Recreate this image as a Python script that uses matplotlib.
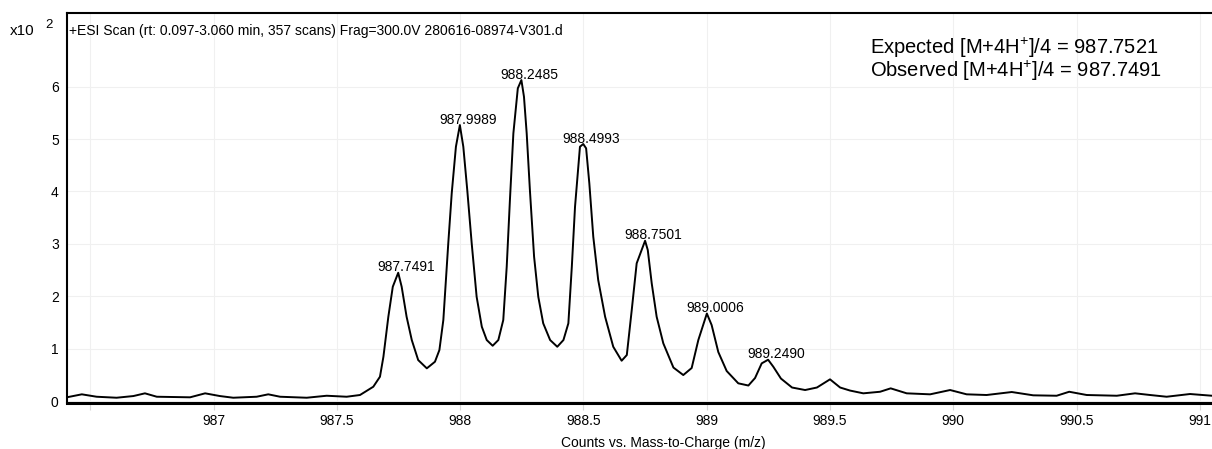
import matplotlib
matplotlib.use("Agg")
import matplotlib.pyplot as plt

plt.rcParams['font.family'] = ['Liberation Sans', 'DejaVu Sans']
plt.rcParams['mathtext.fontset'] = 'custom'
plt.rcParams['mathtext.rm'] = 'Liberation Sans'

# profile spectrum, counts in units of 10^2
mz = [986.405, 986.466, 986.526, 986.607, 986.675, 986.722, 986.770, 986.905, 986.966, 987.026,
      987.080, 987.175, 987.222, 987.270, 987.378, 987.459, 987.540, 987.594, 987.648, 987.675,
      987.689, 987.709, 987.727, 987.749, 987.763, 987.783, 987.804, 987.830, 987.865, 987.898,
      987.916, 987.932, 987.952, 987.966, 987.983, 987.999, 988.013, 988.029, 988.047, 988.067,
      988.088, 988.108, 988.132, 988.155, 988.175, 988.189, 988.202, 988.216, 988.234, 988.2485,
      988.259, 988.270, 988.283, 988.300, 988.317, 988.337, 988.365, 988.394, 988.419, 988.439,
      988.453, 988.466, 988.486, 988.4993, 988.511, 988.524, 988.540, 988.560, 988.588, 988.621,
      988.655, 988.676, 988.696, 988.716, 988.7501, 988.761, 988.777, 988.797, 988.824, 988.865,
      988.905, 988.939, 988.966, 989.0006, 989.020, 989.047, 989.081, 989.128, 989.169, 989.196,
      989.223, 989.249, 989.270, 989.301, 989.346, 989.399, 989.447, 989.500, 989.541, 989.581,
      989.635, 989.703, 989.746, 989.811, 989.906, 989.987, 990.054, 990.135, 990.237, 990.324,
      990.419, 990.470, 990.541, 990.663, 990.737, 990.798, 990.865, 990.960, 991.049]
counts = [0.071, 0.128, 0.082, 0.063, 0.095, 0.147, 0.082, 0.071, 0.147, 0.095,
          0.063, 0.082, 0.128, 0.082, 0.063, 0.101, 0.082, 0.115, 0.273, 0.464,
          0.845, 1.609, 2.181, 2.448, 2.181, 1.609, 1.164, 0.782, 0.624, 0.750,
          0.973, 1.546, 3.010, 3.964, 4.853, 5.267, 4.853, 4.027, 3.010, 1.990,
          1.418, 1.164, 1.055, 1.164, 1.546, 2.563, 3.836, 5.109, 5.968, 6.126,
          5.807, 5.109, 4.027, 2.754, 1.990, 1.483, 1.164, 1.036, 1.164, 1.483,
          2.563, 3.708, 4.853, 4.905, 4.823, 4.155, 3.136, 2.309, 1.609, 1.036,
          0.769, 0.878, 1.737, 2.628, 3.059, 2.882, 2.246, 1.609, 1.101, 0.639,
          0.496, 0.630, 1.164, 1.670, 1.450, 0.935, 0.573, 0.338, 0.296, 0.439,
          0.719, 0.788, 0.655, 0.429, 0.258, 0.210, 0.258, 0.414, 0.258, 0.200,
          0.147, 0.177, 0.242, 0.147, 0.128, 0.210, 0.128, 0.115, 0.172, 0.109,
          0.101, 0.177, 0.115, 0.101, 0.147, 0.115, 0.082, 0.134, 0.101]

peak_labels = ['987.7491', '987.9989', '988.2485', '988.4993', '988.7501', '989.0006', '989.2490']

x_ticks = [986.5, 987, 987.5, 988, 988.5, 989, 989.5, 990, 990.5, 991]
x_tick_labels = ['', '987', '987.5', '988', '988.5', '989', '989.5', '990', '990.5', '991']
y_ticks = [0, 1, 2, 3, 4, 5, 6]

title = '+ESI Scan (rt: 0.097-3.060 min, 357 scans) Frag=300.0V 280616-08974-V301.d'
expected = r'Expected [M+4H$^{+}$]/4 = 987.7521'
observed = r'Observed [M+4H$^{+}$]/4 = 987.7491'

fig = plt.figure(figsize=(12.12, 4.49), dpi=100)
ax = fig.add_axes([0.0553, 0.1031, 0.9447, 0.8679])

ax.plot(mz, counts, color='black', linewidth=1.4)

# label each peak apex with its m/z
for lab in peak_labels:
    px = float(lab)
    i = min(range(len(mz)), key=lambda k: abs(mz[k] - px))
    ax.annotate(lab, (mz[i], counts[i]), xytext=(6, 1), textcoords='offset points',
                ha='center', va='baseline', fontsize=10)

ax.set_xlim(986.406, 991.049)
ax.set_ylim(-0.032, 7.405)
ax.set_xticks(x_ticks)
ax.set_xticklabels(x_tick_labels)
ax.set_yticks(y_ticks)
ax.tick_params(axis='x', length=5, color='#d8d8d8', labelsize=10, pad=3)
ax.tick_params(axis='y', length=0, labelsize=10, pad=6)
ax.grid(True, color='#f0f0f0', linewidth=0.8)

ax.spines['right'].set_visible(False)
for s in ['left', 'top']:
    ax.spines[s].set_linewidth(1.5)
ax.spines['bottom'].set_linewidth(2.2)

ax.set_xlabel('Counts vs. Mass-to-Charge (m/z)', fontsize=10)
ax.xaxis.set_label_coords(0.521, -0.085)

ax.text(0.002, 0.954, title, transform=ax.transAxes, ha='left', va='center', fontsize=10)
ax.text(0.7017, 0.895, expected, transform=ax.transAxes, ha='left', va='baseline', fontsize=14.5)
ax.text(0.7017, 0.836, observed, transform=ax.transAxes, ha='left', va='baseline', fontsize=14.5)

fig.text(0.008, 0.932, 'x10', ha='left', va='center', fontsize=11)
fig.text(0.0404, 0.944, '2', ha='center', va='center', fontsize=9.5)

fig.savefig('out.png', dpi=100)
